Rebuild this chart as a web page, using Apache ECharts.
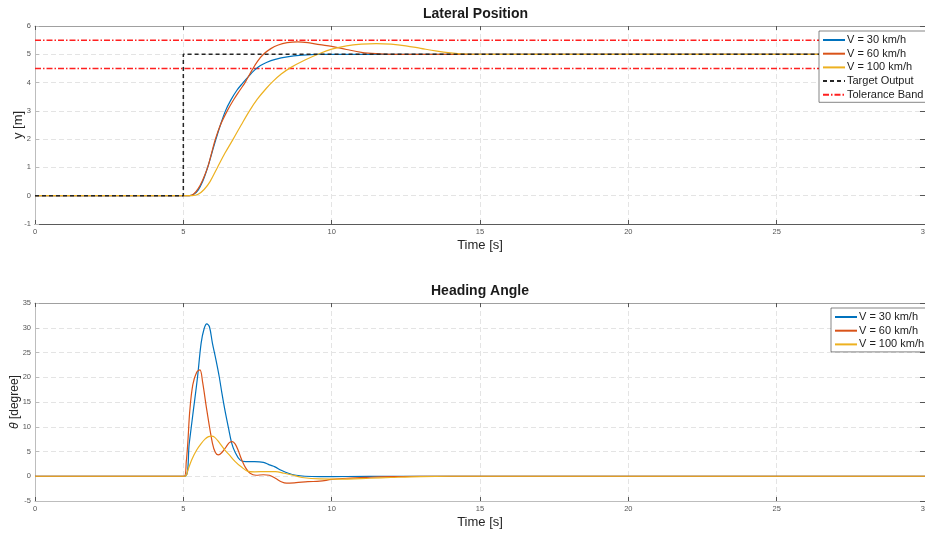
<!DOCTYPE html>
<html>
<head>
<meta charset="utf-8">
<script src="https://cdn.jsdelivr.net/npm/echarts@6/dist/echarts.min.js"></script>
<style>html,body{margin:0;padding:0;background:#fff;}#c{width:925px;height:533px;}</style>
</head>
<body>
<div id="c"></div>
<script>
// ---------- data ----------
const xTicks = [0, 5, 10, 15, 20, 25, 30];
const seriesNames = ['V = 30 km/h', 'V = 60 km/h', 'V = 100 km/h'];

// Lateral position y [m]
const latT30 = [0,5,5.2,5.35,5.5,5.65,5.82,5.96,6.1,6.25,6.42,6.6,6.8,7.0,7.2,7.4,7.6,7.8,8.1,8.5,9.0,9.5,10,30];
const latY30 = [0,0,0,0.05,0.2,0.5,1.0,1.5,2.0,2.5,3.0,3.38,3.72,3.98,4.22,4.44,4.6,4.71,4.82,4.91,4.97,5.0,5.0,5.0];
const latT60 = [0,5,5.2,5.35,5.5,5.65,5.82,5.95,6.08,6.25,6.48,6.7,6.9,7.08,7.32,7.5,7.7,7.95,8.2,8.5,8.85,9.2,9.6,10.0,10.5,11.0,11.5,12,30];
const latY60 = [0,0,0,0.06,0.25,0.55,1.0,1.5,2.0,2.5,3.0,3.4,3.72,4.0,4.45,4.75,5.0,5.2,5.33,5.41,5.44,5.41,5.34,5.28,5.17,5.07,5.02,5.0,5.0];
const latT100 = [0,5,5.3,5.5,5.7,5.9,6.15,6.4,6.68,6.95,7.23,7.5,7.8,8.03,8.3,8.6,9.1,9.6,10.0,10.5,11.0,11.5,12.0,12.5,13.0,13.5,14.0,14.5,15,30];
const latY100 = [0,0,0,0.05,0.22,0.5,1.0,1.5,2.0,2.5,3.0,3.42,3.8,4.05,4.3,4.52,4.8,5.03,5.18,5.3,5.36,5.38,5.36,5.3,5.21,5.12,5.05,5.01,5.0,5.0];
const targetT = [0,5,5,30];
const targetY = [0,0,5,5];
const tolUpper = 5.5;
const tolLower = 4.5;

// Heading angle theta [degree]
const hdT30 = [0,5.06,5.2,5.34,5.48,5.6,5.7,5.79,5.88,5.98,6.1,6.21,6.3,6.4,6.52,6.63,6.75,6.91,7.1,7.4,7.7,7.9,8.09,8.3,8.54,8.8,9.1,9.6,10.5,12,30];
const hdY30 = [0,0,6.7,13.4,20.1,26.9,29.8,30.8,30.2,26.9,23.5,20.1,16.8,13.4,9.8,6.7,4.8,3.3,2.95,2.95,2.8,2.3,1.9,1.2,0.6,0.2,0,-0.07,-0.05,0,0];
const hdT60 = [0,5.03,5.1,5.15,5.22,5.32,5.45,5.56,5.65,5.79,5.98,6.08,6.18,6.3,6.45,6.55,6.65,6.75,6.85,6.97,7.1,7.25,7.45,7.7,7.9,8.1,8.3,8.48,8.8,9.2,9.6,10,10.5,11.3,12,13,30];
const hdY60 = [0,0,3,6.7,13.4,18.5,21,21.5,19,13.4,6.7,4.8,4.3,4.8,6.0,6.8,7.0,6.5,5.2,3.3,1.7,0.6,0.2,0.3,0.2,-0.4,-1.1,-1.4,-1.3,-1.1,-1.0,-0.65,-0.4,-0.2,-0.08,0,0];
const hdT100 = [0,5.06,5.15,5.28,5.45,5.6,5.73,5.85,5.95,6.05,6.2,6.4,6.55,6.74,6.95,7.18,7.4,7.8,8.1,8.4,8.7,9.0,9.6,10.2,11.3,12,13,14,30];
const hdY100 = [0,0,1.2,3.3,5.3,6.6,7.5,8.0,8.1,7.9,6.9,5.3,4.3,3.0,1.9,1.0,0.9,0.95,0.95,0.6,0.2,-0.25,-0.55,-0.58,-0.4,-0.25,-0.07,0,0];

// ---------- helpers ----------
const zip = (t, y) => t.map((v, i) => [v, y[i]]);
const colors = ['#0072BD', '#D95319', '#EDB120'];
const FONT = 'Liberation Sans, Arial, sans-serif';

const chart = echarts.init(document.getElementById('c'), null, {renderer: 'canvas'});

function xAxisPair(gridIndex, bottomLineColor) {
  return [
    {
      type: 'value', gridIndex, position: 'bottom', min: 0, max: 30, interval: 5,
      name: 'Time [s]', nameLocation: 'middle', nameGap: 15, nameMoveOverlap: false,
      nameTextStyle: {fontSize: 13, color: '#262626', fontFamily: FONT},
      axisLine: {show: true, onZero: false, lineStyle: {color: bottomLineColor, width: 1}},
      axisTick: {show: true, inside: true, length: 4, lineStyle: {color: '#555'}},
      axisLabel: {fontSize: 7.5, color: '#555', margin: 4, fontFamily: FONT,
        formatter: v => xTicks.includes(v) ? String(v) : ''},
      splitLine: {show: true, lineStyle: {color: '#e4e4e4', type: [5, 3], width: 1}}
    },
    {
      type: 'value', gridIndex, position: 'top', min: 0, max: 30, interval: 5,
      axisLine: {show: true, onZero: false, lineStyle: {color: '#a0a0a0', width: 1}},
      axisTick: {show: true, inside: true, length: 4, lineStyle: {color: '#555'}},
      axisLabel: {show: false}, splitLine: {show: false}
    }
  ];
}

function yAxisPair(gridIndex, min, max, interval, name, gap, fs, rich) {
  return [
    {
      type: 'value', gridIndex, position: 'left', min, max, interval,
      name, nameLocation: 'middle', nameGap: gap, nameRotate: 90, nameMoveOverlap: false,
      nameTextStyle: {fontSize: fs, color: '#262626', fontFamily: FONT, rich: rich || {}},
      axisLine: {show: true, onZero: false, lineStyle: {color: '#bdbdbd', width: 1}},
      axisTick: {show: true, inside: true, length: 4, lineStyle: {color: '#bbb'}},
      axisLabel: {fontSize: 7.5, color: '#555', margin: 4, fontFamily: FONT},
      splitLine: {show: true, lineStyle: {color: '#e4e4e4', type: [5, 3], width: 1}}
    },
    {
      type: 'value', gridIndex, position: 'right', min, max, interval,
      axisLine: {show: true, onZero: false, lineStyle: {color: '#a0a0a0', width: 1}},
      axisTick: {show: true, inside: true, length: 5, lineStyle: {color: '#555'}},
      axisLabel: {show: false}, splitLine: {show: false}
    }
  ];
}

function curve(name, data, color, xi, yi) {
  return {
    type: 'line', name, data, xAxisIndex: xi, yAxisIndex: yi,
    showSymbol: false, symbol: 'none', smooth: 0.35,
    lineStyle: {color, width: 1.2}, itemStyle: {color},
    z: 3, silent: true
  };
}

const legendBase = {
  orient: 'vertical', itemWidth: 22, itemHeight: 11, itemGap: 2.7,
  padding: [3.5, 4, 2, 3], borderColor: '#333', borderWidth: 0.6, backgroundColor: '#fff',
  textStyle: {fontSize: 11, color: '#222', fontFamily: FONT, padding: [0, 0, 0, -3]},
  itemStyle: {opacity: 0, borderWidth: 0},
  selectedMode: false, z: 20
};

const option = {
  animation: false,
  backgroundColor: '#fff',
  textStyle: {fontFamily: FONT},
  title: [
    {text: 'Lateral Position', left: 423, top: 7, padding: 0,
     textStyle: {fontSize: 14, fontWeight: 'bold', color: '#1a1a1a', fontFamily: FONT}},
    {text: 'Heading Angle', left: 431, top: 284, padding: 0,
     textStyle: {fontSize: 14, fontWeight: 'bold', color: '#1a1a1a', fontFamily: FONT}}
  ],
  legend: [
    Object.assign({}, legendBase, {data: [...seriesNames, 'Target Output', 'Tolerance Band'], left: 819, top: 31}),
    Object.assign({}, legendBase, {data: seriesNames, left: 831, top: 308})
  ],
  grid: [
    {left: 35, top: 26, width: 890, height: 198, outerBoundsMode: 'none', containLabel: false},
    {left: 35, top: 303, width: 890, height: 198, outerBoundsMode: 'none', containLabel: false}
  ],
  xAxis: [...xAxisPair(0, '#5a5a5a'), ...xAxisPair(1, '#bdbdbd')],
  yAxis: [
    ...yAxisPair(0, -1, 6, 1, 'y [m]', 10.5, 13),
    ...yAxisPair(1, -5, 35, 5, '{a|θ} [degree]', 14, 12,
      {a: {fontStyle: 'italic', fontSize: 12, color: '#262626', fontFamily: FONT}})
  ],
  series: [
    curve(seriesNames[0], zip(latT30, latY30), colors[0], 0, 0),
    curve(seriesNames[1], zip(latT60, latY60), colors[1], 0, 0),
    curve(seriesNames[2], zip(latT100, latY100), colors[2], 0, 0),
    {
      type: 'line', name: 'Target Output', data: zip(targetT, targetY), xAxisIndex: 0, yAxisIndex: 0,
      showSymbol: false, symbol: 'none', smooth: false,
      lineStyle: {color: '#262626', width: 1.5, type: [4, 3]}, itemStyle: {color: '#262626'}, z: 3
    },
    {
      type: 'line', name: 'Tolerance Band', data: [[0, tolUpper], [30, tolUpper]], xAxisIndex: 0, yAxisIndex: 0,
      showSymbol: false, symbol: 'none',
      lineStyle: {color: '#ff2020', width: 1.5, type: [6, 2, 1.5, 2]}, itemStyle: {color: '#ff2020'}, z: 2
    },
    {
      type: 'line', name: 'Tolerance Band', data: [[0, tolLower], [30, tolLower]], xAxisIndex: 0, yAxisIndex: 0,
      showSymbol: false, symbol: 'none',
      lineStyle: {color: '#ff2020', width: 1.5, type: [6, 2, 1.5, 2]}, itemStyle: {color: '#ff2020'}, z: 2
    },
    curve(seriesNames[0], zip(hdT30, hdY30), colors[0], 2, 2),
    curve(seriesNames[1], zip(hdT60, hdY60), colors[1], 2, 2),
    curve(seriesNames[2], zip(hdT100, hdY100), colors[2], 2, 2)
  ]
};
chart.setOption(option);
</script>
</body>
</html>
